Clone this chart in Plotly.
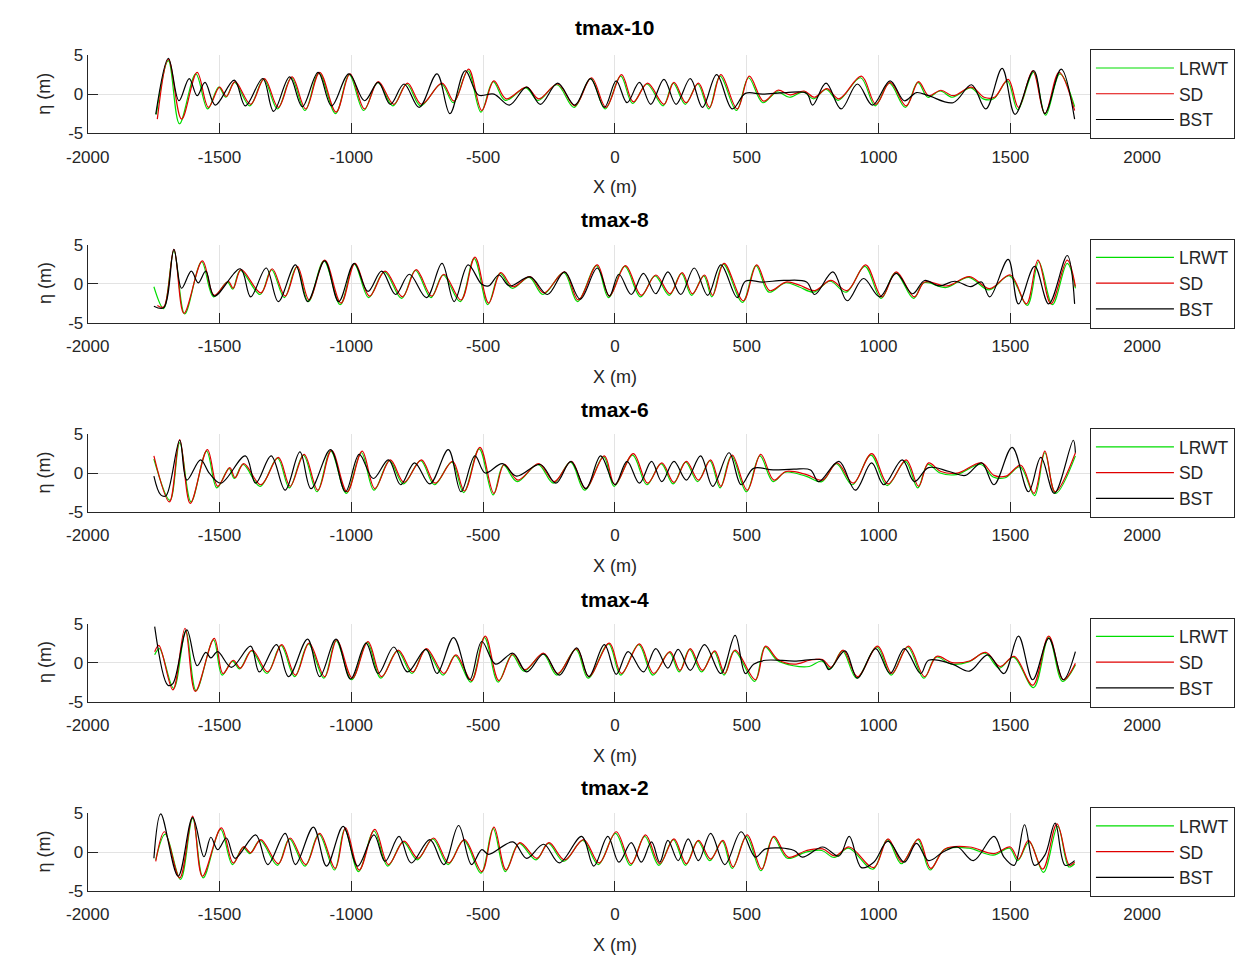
import plotly.graph_objects as go

# ---------------- data (x in m, eta in m) ----------------
LRWT_10 = [(-1740,-2.6),(-1694,4.3),(-1652,-3.8),(-1590,2.6),(-1545,-1.9),(-1503,0.9),(-1476,-0.4),(-1443,1.5),(-1385,-1.5),(-1333,1.9),(-1280,-1.9),(-1228,2.1),(-1176,-2.1),(-1123,2.7),(-1060,-2.5),(-1008,2.5),(-953,-2.1),(-900,1.5),(-842,-1.5),(-790,1.3),(-737,-1.5),(-659,1.3),(-613,-1.1),(-558,3.0),(-508,-2.3),(-462,1.6),(-416,-0.8),(-338,0.8),(-292,-0.8),(-220,1.2),(-155,-1.7),(-92,2.0),(-37,-1.9),(22,2.3),(67,-1.2),(121,1.3),(183,-1.5),(221,1.4),(267,-1.3),(314,1.3),(356,-1.9),(399,2.3),(461,-2.1),(507,2.1),(561,-1.1),(615,0.3),(662,-0.4),(715,0.3),(754,-0.6),(801,0.6),(847,-0.8),(932,2.1),(987,-1.5),(1041,1.4),(1102,-1.7),(1149,1.5),(1187,-0.4),(1234,0.4),(1280,-0.4),(1350,0.8),(1397,-0.6),(1437,-0.6),(1489,1.7),(1528,-2.0),(1588,2.8),(1634,-2.7),(1688,2.6),(1744,-1.6)]
SD_10 = [(-1736,-3.2),(-1694,4.5),(-1644,-3.2),(-1585,2.8),(-1542,-1.7),(-1500,0.9),(-1474,-0.3),(-1441,1.6),(-1382,-1.3),(-1330,2.0),(-1277,-1.7),(-1225,2.2),(-1173,-1.9),(-1120,2.8),(-1058,-2.3),(-1005,2.6),(-950,-1.9),(-898,1.6),(-839,-1.3),(-787,1.4),(-734,-1.3),(-656,1.4),(-610,-0.9),(-555,3.2),(-505,-2.1),(-459,1.7),(-413,-0.6),(-335,0.9),(-289,-0.6),(-217,1.3),(-152,-1.5),(-89,2.1),(-34,-1.7),(25,2.5),(70,-1.0),(124,1.4),(186,-1.3),(224,1.5),(270,-1.1),(317,1.4),(359,-1.7),(402,2.5),(464,-1.9),(510,2.3),(564,-0.9),(618,0.5),(665,-0.1),(718,0.4),(757,-0.4),(804,0.7),(850,-0.6),(935,2.3),(990,-1.3),(1044,1.5),(1105,-1.5),(1152,1.6),(1190,-0.2),(1237,0.5),(1283,-0.2),(1353,0.9),(1400,-0.4),(1440,-0.4),(1492,1.9),(1531,-1.7),(1585,3.0),(1631,-2.5),(1685,2.8),(1744,-2.1)]
BST_10 = [(-1742,-2.6),(-1694,4.6),(-1654,-0.85),(-1615,2.0),(-1585,-0.2),(-1555,1.5),(-1516,-1.4),(-1444,1.8),(-1402,-1.5),(-1336,2.0),(-1295,-2.2),(-1234,2.2),(-1186,-1.6),(-1126,2.8),(-1075,-1.5),(-1009,2.6),(-950,-0.85),(-898,1.5),(-852,-1.3),(-800,1.3),(-743,-1.7),(-675,2.6),(-626,-2.5),(-568,3.0),(-518,-0.1),(-459,0.0),(-400,-1.4),(-335,0.9),(-283,-1.3),(-217,1.4),(-152,-1.4),(-93,2.0),(-40,-1.7),(5,1.7),(46,-1.1),(93,1.5),(136,-1.3),(186,1.9),(232,-1.3),(286,2.0),(332,-1.7),(386,2.5),(445,-1.9),(495,0.1),(560,0.0),(650,0.2),(727,0.1),(750,-1.4),(801,1.4),(858,-1.9),(920,1.3),(977,-1.4),(1044,1.7),(1098,-0.85),(1144,0.2),(1190,-0.2),(1283,-1.1),(1353,1.2),(1407,-1.9),(1469,3.3),(1518,-2.6),(1589,3.0),(1631,-2.5),(1693,3.2),(1744,-3.2)]

LRWT_8 = [(-1749,-0.4),(-1712,-3.2),(-1673,4.2),(-1632,-3.9),(-1568,2.8),(-1523,-1.7),(-1470,0.2),(-1450,-0.7),(-1421,1.7),(-1346,-1.4),(-1303,1.8),(-1254,-1.8),(-1208,2.1),(-1163,-2.3),(-1104,2.9),(-1042,-2.7),(-989,2.5),(-934,-1.8),(-875,1.5),(-809,-1.9),(-757,1.7),(-698,-1.8),(-652,1.1),(-587,-2.3),(-534,3.2),(-482,-2.7),(-436,1.3),(-390,-0.6),(-325,0.8),(-273,-1.4),(-194,1.4),(-142,-2.3),(-70,2.3),(-24,-1.8),(37,2.2),(97,-1.7),(152,1.0),(206,-1.5),(252,1.3),(291,-1.5),(337,1.0),(368,-1.7),(411,2.5),(484,-2.4),(535,2.3),(584,-1.1),(646,0.1),(697,-0.4),(755,-1.1),(816,0.3),(878,-1.1),(948,2.2),(1010,-1.9),(1064,1.4),(1133,-1.9),(1172,0.1),(1257,-0.5),(1342,0.8),(1419,-0.8),(1497,1.0),(1564,-2.8),(1608,2.8),(1660,-2.7),(1716,2.6),(1747,-0.6)]
SD_8 = [(-1736,-2.8),(-1712,-3.0),(-1673,4.4),(-1635,-3.8),(-1565,2.9),(-1520,-1.5),(-1467,0.3),(-1448,-0.6),(-1418,1.8),(-1343,-1.2),(-1300,1.9),(-1251,-1.6),(-1205,2.2),(-1160,-2.1),(-1101,3.0),(-1039,-2.5),(-986,2.6),(-931,-1.6),(-872,1.6),(-806,-1.7),(-754,1.8),(-695,-1.6),(-649,1.2),(-584,-2.1),(-531,3.4),(-479,-2.5),(-433,1.4),(-387,-0.4),(-322,0.9),(-270,-1.2),(-191,1.5),(-139,-2.1),(-67,2.4),(-21,-1.6),(40,2.3),(100,-1.5),(155,1.1),(209,-1.3),(255,1.4),(294,-1.3),(340,1.1),(371,-1.5),(414,2.6),(487,-2.2),(538,2.4),(587,-0.9),(649,0.2),(700,-0.2),(758,-0.9),(819,0.4),(881,-0.9),(951,2.4),(1013,-1.7),(1067,1.5),(1136,-1.7),(1175,0.2),(1260,-0.3),(1345,0.9),(1422,-0.65),(1500,1.1),(1561,-2.6),(1605,3.0),(1654,-2.6),(1716,3.0),(1747,-0.4)]
BST_8 = [(-1749,-2.9),(-1712,-3.1),(-1673,4.4),(-1644,-0.6),(-1607,1.6),(-1581,0.1),(-1552,1.6),(-1520,-1.6),(-1421,1.9),(-1382,-1.7),(-1323,2.0),(-1277,-2.3),(-1212,2.4),(-1166,-2.3),(-1101,2.9),(-1048,-2.3),(-989,2.6),(-937,-1.0),(-885,1.6),(-832,-1.4),(-780,1.2),(-715,-1.8),(-656,2.6),(-610,-2.3),(-557,2.4),(-505,-0.1),(-479,-0.3),(-440,1.1),(-400,-0.3),(-322,0.85),(-256,-1.4),(-191,1.5),(-132,-2.0),(-67,2.0),(-21,-1.6),(15,1.2),(62,-1.4),(108,1.3),(155,-1.3),(201,1.5),(250,-1.4),(301,2.0),(352,-1.5),(402,2.4),(464,-1.8),(495,0.3),(560,0.2),(640,0.4),(727,0.2),(758,-1.4),(827,1.5),(881,-2.2),(943,0.65),(1005,-1.7),(1067,1.3),(1129,-1.3),(1175,0.4),(1230,-0.3),(1290,0.3),(1350,-0.4),(1391,0.2),(1422,-1.7),(1492,3.1),(1531,-2.6),(1592,2.2),(1646,-2.6),(1716,3.6),(1744,-2.6)]

LRWT_6 = [(-1749,1.8),(-1688,-3.5),(-1651,3.9),(-1608,-3.7),(-1549,2.8),(-1510,-1.9),(-1464,0.6),(-1444,-0.7),(-1411,1.1),(-1346,-1.7),(-1280,1.9),(-1235,-1.9),(-1182,2.3),(-1130,-2.4),(-1078,2.8),(-1019,-2.6),(-962,2.6),(-914,-2.2),(-855,1.6),(-803,-1.4),(-737,1.6),(-685,-1.5),(-619,1.4),(-574,-2.5),(-515,3.1),(-462,-2.8),(-423,1.0),(-371,-1.1),(-292,1.1),(-233,-1.3),(-168,1.4),(-115,-2.2),(-43,2.1),(-3,-1.7),(67,2.3),(121,-1.5),(175,1.2),(221,-1.4),(268,1.4),(314,-1.1),(360,1.6),(399,-1.9),(442,2.2),(499,-2.4),(550,2.2),(600,-1.1),(646,0.1),(724,-0.4),(785,-1.1),(840,1.2),(901,-1.5),(971,2.3),(1033,-1.6),(1102,1.5),(1149,-1.9),(1187,1.1),(1234,0.0),(1296,-0.2),(1388,1.1),(1435,-0.5),(1481,-0.6),(1537,0.8),(1592,-2.9),(1631,2.6),(1672,-2.6),(1747,2.2)]
SD_6 = [(-1749,2.2),(-1690,-3.7),(-1651,4.3),(-1611,-3.9),(-1546,3.0),(-1507,-1.7),(-1461,0.7),(-1441,-0.6),(-1408,1.2),(-1343,-1.5),(-1277,2.0),(-1232,-1.7),(-1179,2.4),(-1127,-2.2),(-1075,2.9),(-1016,-2.4),(-959,2.8),(-911,-2.0),(-852,1.7),(-800,-1.2),(-734,1.7),(-682,-1.3),(-616,1.5),(-571,-2.3),(-512,3.3),(-459,-2.6),(-420,1.1),(-368,-0.9),(-289,1.2),(-230,-1.1),(-165,1.5),(-112,-2.0),(-40,2.2),(0,-1.5),(70,2.5),(124,-1.3),(178,1.3),(224,-1.2),(271,1.5),(317,-0.9),(363,1.7),(402,-1.7),(445,2.3),(502,-2.2),(553,2.4),(603,-0.9),(649,0.2),(727,-0.2),(788,-0.9),(843,1.3),(904,-1.3),(974,2.5),(1036,-1.4),(1105,1.7),(1152,-1.7),(1190,1.3),(1237,0.2),(1299,0.0),(1391,1.3),(1438,-0.3),(1484,-0.4),(1540,1.0),(1590,-2.6),(1631,2.8),(1670,-2.4),(1747,2.6)]
BST_6 = [(-1749,-0.4),(-1723,-2.8),(-1703,-2.9),(-1651,4.2),(-1624,-0.9),(-1572,1.7),(-1539,0.0),(-1495,-1.3),(-1402,2.2),(-1363,-1.3),(-1304,2.2),(-1251,-2.2),(-1195,2.7),(-1153,-2.0),(-1079,3.0),(-1022,-2.4),(-970,2.4),(-917,-0.7),(-859,1.7),(-813,-1.5),(-760,1.3),(-702,-1.4),(-632,3.0),(-584,-2.4),(-531,2.2),(-492,0.0),(-427,1.2),(-374,-0.4),(-283,1.1),(-224,-1.3),(-167,1.5),(-110,-2.0),(-54,2.2),(0,-1.5),(46,1.5),(93,-1.3),(139,1.5),(178,-1.1),(224,1.5),(271,-0.9),(325,2.2),(371,-1.7),(433,2.6),(479,-1.5),(526,0.6),(600,0.4),(680,0.5),(742,0.4),(773,-1.1),(850,1.5),(912,-2.2),(974,1.3),(1020,-1.5),(1090,1.7),(1136,-1.1),(1190,0.7),(1268,0.2),(1330,-0.3),(1391,1.3),(1438,-1.5),(1507,3.3),(1569,-2.4),(1616,2.0),(1667,-2.6),(1739,4.2),(1747,2.6)]

LRWT_4 = [(-1746,1.0),(-1728,1.8),(-1674,-3.3),(-1628,4.1),(-1589,-3.6),(-1523,2.9),(-1490,-1.6),(-1451,0.2),(-1424,-0.8),(-1379,1.5),(-1320,-1.4),(-1267,2.2),(-1215,-1.8),(-1163,2.4),(-1104,-2.0),(-1058,2.8),(-999,-2.2),(-940,2.6),(-888,-2.0),(-825,1.5),(-770,-1.4),(-718,1.7),(-652,-1.6),(-606,0.9),(-547,-2.5),(-495,3.2),(-443,-2.5),(-390,1.0),(-345,-1.1),(-273,1.1),(-220,-1.6),(-148,1.7),(-102,-2.0),(-24,2.4),(22,-1.6),(90,2.3),(144,-1.6),(206,1.3),(244,-1.2),(283,1.7),(329,-1.2),(376,1.4),(414,-1.6),(453,1.5),(530,-2.4),(569,2.0),(615,0.3),(677,-0.4),(737,-0.5),(785,0.2),(817,-0.8),(863,1.5),(917,-2.0),(994,2.0),(1048,-1.6),(1110,2.0),(1172,-2.0),(1218,0.7),(1277,-0.2),(1342,0.1),(1404,1.2),(1458,-0.7),(1512,0.7),(1588,-3.2),(1646,3.2),(1698,-2.4),(1747,-0.3)]
SD_4 = [(-1746,1.4),(-1730,2.2),(-1677,-3.5),(-1631,4.4),(-1592,-3.7),(-1520,3.1),(-1487,-1.4),(-1448,0.3),(-1421,-0.7),(-1376,1.6),(-1317,-1.2),(-1264,2.3),(-1212,-1.6),(-1160,2.5),(-1101,-1.8),(-1055,2.9),(-996,-2.0),(-937,2.7),(-885,-1.8),(-822,1.6),(-767,-1.2),(-715,1.8),(-649,-1.4),(-603,1.0),(-544,-2.3),(-492,3.4),(-440,-2.3),(-387,1.1),(-342,-0.9),(-270,1.2),(-217,-1.4),(-145,1.8),(-99,-1.8),(-21,2.5),(25,-1.4),(93,2.4),(147,-1.4),(209,1.4),(247,-1.0),(286,1.8),(332,-1.0),(379,1.5),(417,-1.4),(456,1.6),(533,-2.2),(572,2.1),(618,0.4),(680,-0.2),(740,0.3),(788,0.4),(820,-0.6),(866,1.6),(920,-1.8),(997,2.1),(1051,-1.4),(1113,2.1),(1175,-1.8),(1221,0.8),(1280,0.0),(1345,0.2),(1407,1.3),(1461,-0.5),(1515,0.8),(1585,-2.9),(1646,3.4),(1701,-2.2),(1747,-0.1)]
BST_4 = [(-1746,4.6),(-1696,-2.9),(-1677,-2.7),(-1624,4.2),(-1585,-0.4),(-1552,1.3),(-1533,0.6),(-1507,1.4),(-1455,-0.6),(-1382,2.1),(-1349,-1.2),(-1284,2.3),(-1238,-1.8),(-1166,3.0),(-1120,-1.8),(-1058,3.0),(-1003,-2.1),(-944,2.5),(-898,-1.4),(-839,2.0),(-787,-1.2),(-717,1.7),(-675,-1.4),(-612,3.2),(-551,-2.2),(-505,2.7),(-453,-0.2),(-387,1.2),(-335,-1.2),(-270,1.1),(-211,-1.6),(-145,1.9),(-99,-1.8),(-40,2.3),(5,-1.5),(50,1.4),(108,-1.2),(155,1.8),(201,-0.7),(240,1.7),(286,-1.0),(340,2.3),(402,-1.4),(456,3.5),(495,-1.4),(526,-0.2),(572,0.3),(680,0.2),(788,0.3),(812,-0.9),(873,1.5),(920,-2.0),(989,1.8),(1044,-1.4),(1098,1.8),(1160,-1.4),(1190,0.3),(1280,-0.2),(1345,-1.1),(1415,1.0),(1476,-1.4),(1531,3.4),(1585,-2.2),(1646,3.1),(1701,-2.2),(1747,1.4)]

LRWT_2 = [(-1742,-1.0),(-1706,2.3),(-1648,-3.5),(-1602,4.3),(-1562,-3.3),(-1496,2.9),(-1451,-1.6),(-1411,0.6),(-1385,-0.2),(-1346,1.5),(-1280,-1.7),(-1235,1.7),(-1176,-1.8),(-1123,2.3),(-1064,-2.3),(-1025,2.9),(-973,-2.5),(-914,2.7),(-862,-1.8),(-803,1.3),(-750,-1.0),(-691,1.7),(-633,-1.6),(-574,1.5),(-508,-2.7),(-462,3.0),(-416,-2.5),(-364,1.1),(-299,-1.0),(-253,1.1),(-194,-1.2),(-122,1.5),(-63,-1.6),(2,2.4),(59,-1.7),(113,2.0),(167,-1.7),(221,1.6),(268,-1.7),(314,1.4),(360,-1.1),(407,1.4),(445,-2.1),(499,2.0),(554,-2.4),(600,1.9),(654,-0.8),(724,0.0),(785,0.2),(832,-0.7),(886,0.5),(979,-2.2),(1033,1.6),(1087,-1.5),(1149,1.6),(1195,-2.3),(1249,0.3),(1342,0.5),(1435,-0.4),(1497,0.5),(1528,-1.1),(1572,1.3),(1626,-2.6),(1680,3.3),(1722,-1.9),(1744,-1.5)]
SD_2 = [(-1742,-1.2),(-1709,2.6),(-1651,-3.3),(-1602,4.6),(-1565,-3.1),(-1493,3.1),(-1448,-1.4),(-1408,0.7),(-1382,-0.1),(-1343,1.6),(-1277,-1.5),(-1232,1.8),(-1173,-1.6),(-1120,2.4),(-1061,-2.1),(-1022,3.1),(-970,-2.3),(-911,2.9),(-859,-1.6),(-800,1.4),(-747,-0.8),(-688,1.8),(-630,-1.4),(-571,1.6),(-505,-2.5),(-459,3.2),(-413,-2.3),(-361,1.2),(-296,-0.8),(-250,1.2),(-191,-1.0),(-119,1.6),(-60,-1.4),(5,2.6),(62,-1.5),(116,2.2),(170,-1.5),(224,1.7),(271,-1.5),(317,1.5),(363,-0.9),(410,1.5),(448,-1.9),(502,2.2),(557,-2.2),(603,2.0),(657,-0.65),(727,0.2),(788,0.4),(835,-0.5),(889,0.65),(982,-2.0),(1036,1.7),(1090,-1.3),(1152,1.7),(1198,-2.1),(1252,0.4),(1345,0.65),(1438,-0.2),(1500,0.65),(1531,-0.9),(1569,1.5),(1623,-2.2),(1677,3.6),(1724,-1.7),(1744,-1.3)]
BST_2 = [(-1749,-0.8),(-1723,4.9),(-1657,-3.1),(-1602,4.4),(-1559,-0.6),(-1533,1.9),(-1507,0.3),(-1474,1.8),(-1441,-0.8),(-1363,2.2),(-1317,-1.6),(-1251,2.4),(-1212,-1.6),(-1144,3.2),(-1094,-1.8),(-1031,3.3),(-976,-1.8),(-914,2.2),(-872,-1.2),(-819,2.0),(-773,-1.4),(-702,1.6),(-649,-1.6),(-593,3.4),(-544,-1.6),(-505,0.3),(-479,-0.3),(-387,1.3),(-335,-0.8),(-270,1.0),(-211,-1.4),(-126,2.0),(-80,-1.8),(-27,2.0),(15,-1.3),(62,1.2),(100,-1.3),(139,1.3),(170,-1.3),(201,1.5),(240,-1.1),(278,1.7),(317,-1.1),(363,2.4),(417,-1.6),(479,2.6),(533,-0.65),(572,0.4),(680,0.2),(711,-0.65),(788,0.65),(850,-0.5),(889,2.0),(935,-2.0),(982,-1.3),(1036,1.4),(1098,-1.3),(1144,1.1),(1190,-1.1),(1245,0.0),(1299,0.65),(1360,-1.1),(1438,2.0),(1476,-0.65),(1515,-1.7),(1554,3.5),(1592,-1.7),(1631,-0.4),(1670,3.7),(1708,-1.7),(1744,-1.1)]

TITLES = ["tmax-10", "tmax-8", "tmax-6", "tmax-4", "tmax-2"]
SERIES_NAMES = ["LRWT", "SD", "BST"]
X_TICKS = [-2000, -1500, -1000, -500, 0, 500, 1000, 1500, 2000]
Y_TICKS = [-5, 0, 5]

PANELS = [
    (LRWT_10, SD_10, BST_10),
    (LRWT_8, SD_8, BST_8),
    (LRWT_6, SD_6, BST_6),
    (LRWT_4, SD_4, BST_4),
    (LRWT_2, SD_2, BST_2),
]

# ---------------- style / layout ----------------
PAGE_W, PAGE_H = 1260, 971
OFF = 8                                  # default body margin of the html page
W, H = PAGE_W - 2 * OFF, PAGE_H - 2 * OFF
COLORS = ["#00dd00", "#e00000", "#000000"]
AXC = "#262626"
GRID = "#e3e3e3"
FONT = "Liberation Sans, Arial, sans-serif"
X0, X1 = 67.7, 1158.0                    # page pixel span of x axes
ZERO_PX = [86.7, 280.0, 473.3, 666.7, 860.0]
TITLE_PX = [19, 215, 408, 602, 794]
HALF = 39.8


def px_x(p):
    return (p - OFF) / W


def px_y(p):
    return 1 - (p - OFF) / H


fig = go.Figure()
layout = dict(
    width=W, height=H, autosize=False,
    margin=dict(l=0, r=0, t=0, b=0),
    paper_bgcolor="white", plot_bgcolor="white",
    font=dict(family=FONT, size=17, color=AXC),
    showlegend=True,
)
annotations = []
xc = px_x((X0 + X1) / 2)

for i, series in enumerate(PANELS):
    k = i + 1
    sfx = "" if k == 1 else str(k)
    xa, ya, lg = "x" + sfx, "y" + sfx, "legend" + sfx
    for name, pts, col in zip(SERIES_NAMES, series, COLORS):
        fig.add_trace(go.Scatter(
            x=[p[0] for p in pts], y=[p[1] for p in pts],
            mode="lines", name=name,
            line=dict(color=col, width=1.2, shape="spline", smoothing=1.0),
            xaxis=xa, yaxis=ya, legend=lg, hoverinfo="skip",
        ))
    top = ZERO_PX[i] - HALF
    bot = ZERO_PX[i] + HALF
    layout["xaxis" + sfx] = dict(
        domain=[px_x(X0), px_x(X1)], anchor=ya, range=[-2000, 2000],
        tickmode="array", tickvals=X_TICKS, ticktext=[str(v) for v in X_TICKS],
        ticks="inside", ticklen=10, tickcolor=AXC, tickwidth=1,
        ticklabelstandoff=8,
        showline=True, linecolor=AXC, linewidth=1, mirror=False,
        showgrid=True, gridcolor=GRID, gridwidth=1, zeroline=False,
        tickfont=dict(size=17, color=AXC, family=FONT),
    )
    layout["yaxis" + sfx] = dict(
        domain=[px_y(bot), px_y(top)], anchor=xa, range=[-5, 5],
        tickmode="array", tickvals=Y_TICKS, ticktext=[str(v) for v in Y_TICKS],
        ticks="inside", ticklen=10, tickcolor=AXC, tickwidth=1,
        showline=True, linecolor=AXC, linewidth=1, mirror=False,
        showgrid=True, gridcolor=GRID, gridwidth=1, zeroline=False,
        tickfont=dict(size=17, color=AXC, family=FONT),
    )
    layout[lg] = dict(
        x=px_x(1254), xanchor="right", y=px_y(ZERO_PX[i]), yanchor="middle",
        bgcolor="white", bordercolor=AXC, borderwidth=1,
        font=dict(size=17.5, color=AXC, family=FONT),
        itemwidth=78, tracegroupgap=0,
    )
    annotations.append(dict(text="<b>" + TITLES[i] + "</b>", x=xc, y=px_y(TITLE_PX[i]),
                            xref="paper", yref="paper", showarrow=False,
                            xanchor="center", yanchor="middle",
                            font=dict(size=21, color="#000000", family=FONT)))
    annotations.append(dict(text="X (m)", x=xc, y=px_y(bot + 55),
                            xref="paper", yref="paper", showarrow=False,
                            xanchor="center", yanchor="middle",
                            font=dict(size=18, color=AXC, family=FONT)))
    annotations.append(dict(text="η (m)", x=px_x(23), y=px_y(ZERO_PX[i]),
                            xref="paper", yref="paper", showarrow=False, textangle=-90,
                            xanchor="center", yanchor="middle",
                            font=dict(size=18, color=AXC, family=FONT)))

layout["annotations"] = annotations
fig.update_layout(**layout)

fig.write_html("out.html", config={"displayModeBar": False})
